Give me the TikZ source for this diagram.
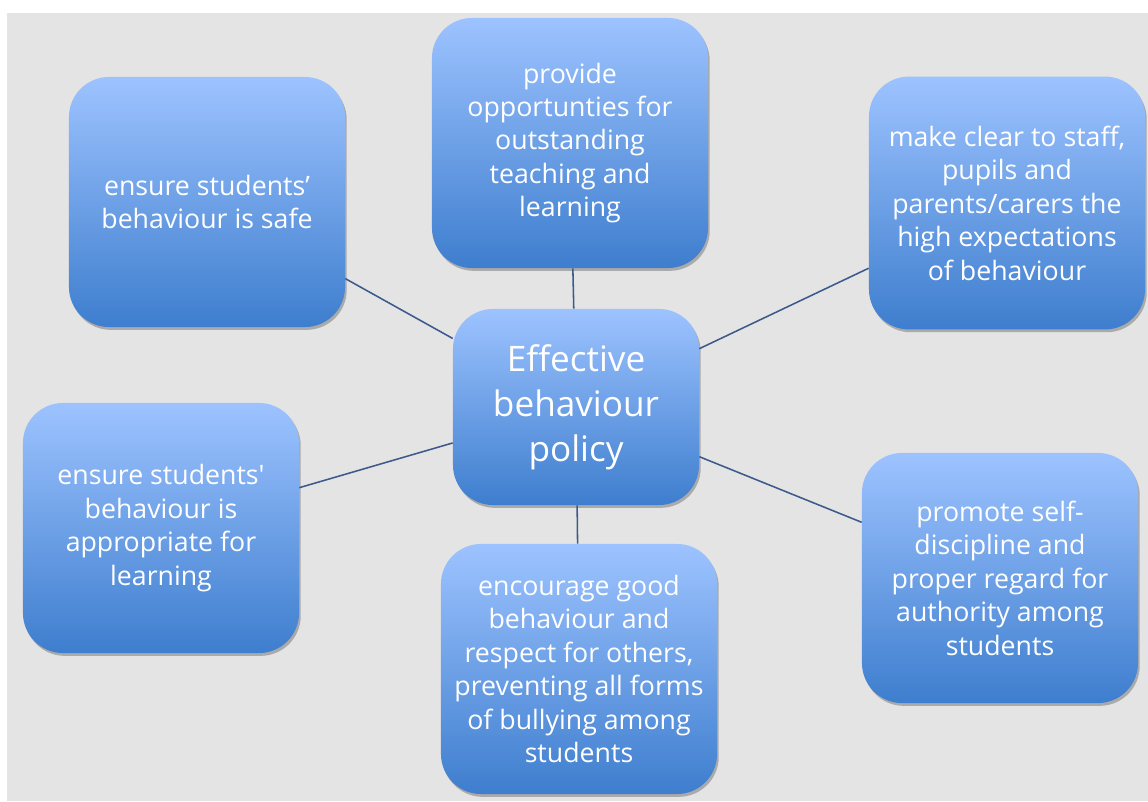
\documentclass[tikz,border=0pt]{standalone}
\usepackage{fontspec}
\setmainfont{Open Sans}
\usepackage{xcolor}
\usepackage{tikz}
\usetikzlibrary{shadows}
\definecolor{boxtop}{RGB}{157, 195, 255}
\definecolor{boxbottom}{RGB}{62, 126, 206}
\definecolor{linkblue}{RGB}{60, 90, 140}
\definecolor{canvas}{RGB}{228, 228, 228}

\begin{document}
\begin{tikzpicture}[
    x=0.025cm, y=-0.025cm,
    leaf/.style={rectangle, rounded corners=1cm, minimum width=6.9cm, minimum height=6.25cm, align=center,
        top color=boxtop, bottom color=boxbottom, text=white, inner sep=0pt,
        drop shadow={shadow xshift=1.2pt, shadow yshift=-2pt, opacity=0.25, fill=black},
        font=\fontsize{19}{23.8}\selectfont},
    hub/.style={leaf, minimum width=6.15cm, minimum height=4.9cm, font=\fontsize{25}{32}\selectfont},
    link/.style={draw=linkblue, line width=1.1pt}
]
    % canvas
    \useasboundingbox (0,0) rectangle (1148,801);
    \fill[canvas] (7,13) rectangle (1148,801);

    % Centre
    \node[hub] (policy) at (576,407) {Effective\\behaviour\\policy};

    % Aims around the centre
    \node[leaf] (safe) at (207,202) {ensure students’\\behaviour is safe};
    \node[leaf] (teaching) at (570,143) {provide\\opportunties for\\outstanding\\teaching and\\learning};
    \node[leaf, minimum height=6.32cm] (expect) at (1007,203) {make clear to staff,\\pupils and\\parents/carers the\\high expectations\\of behaviour};
    \node[leaf] (learning) at (161,528) {ensure students\textquotesingle\\behaviour is\\appropriate for\\learning};
    \node[leaf] (bullying) at (579,669) {encourage good\\behaviour and\\respect for others,\\preventing all forms\\of bullying among\\students};
    \node[leaf] (discipline) at (1000,578) {promote self-\\discipline and\\proper regard for\\authority among\\students};

    \draw[link] (policy) -- (safe);
    \draw[link] (policy) -- (teaching);
    \draw[link] (policy) -- (expect);
    \draw[link] (policy) -- (learning);
    \draw[link] (policy) -- (bullying);
    \draw[link] (policy) -- (discipline);

\end{tikzpicture}
\end{document}
